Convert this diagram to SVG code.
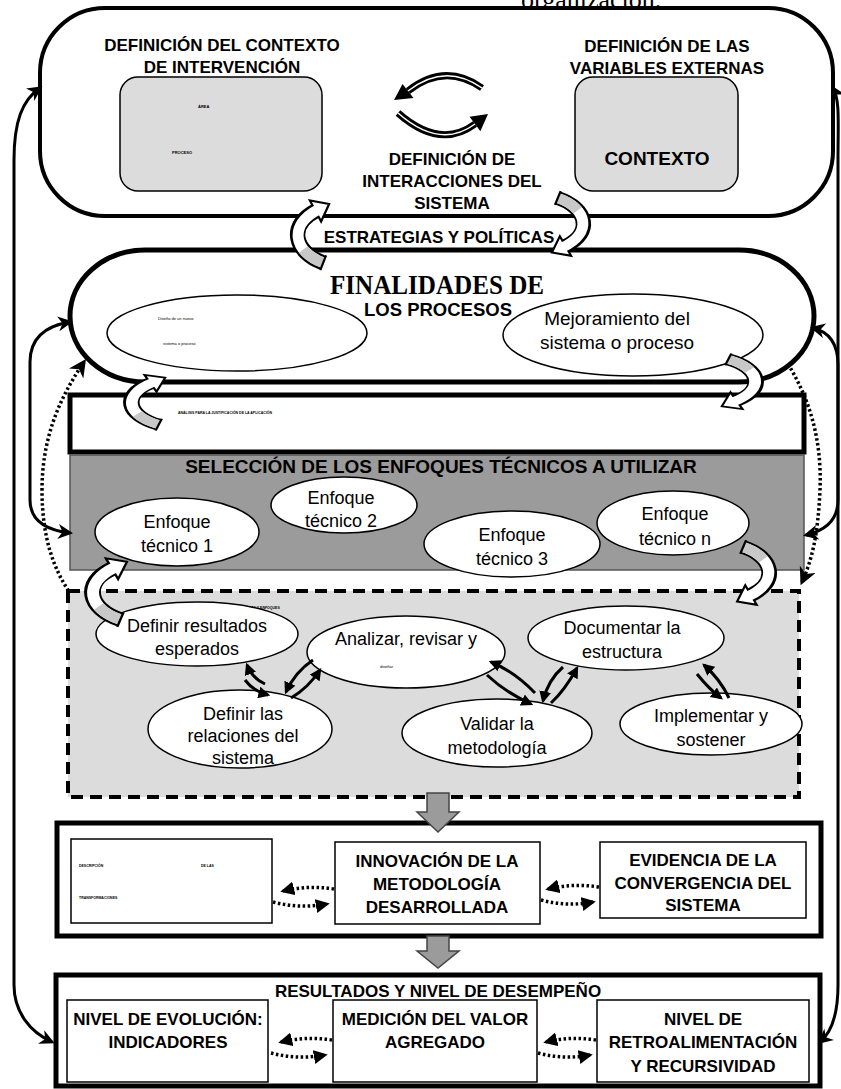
<svg xmlns="http://www.w3.org/2000/svg" xmlns:xlink="http://www.w3.org/1999/xlink" width="841" height="1089" viewBox="0 0 841 1089">
<style>
text{font-family:"Liberation Sans",Arial,sans-serif;fill:#000}
.h{font-weight:bold;font-size:17px;text-anchor:middle}
.r{font-size:18px;text-anchor:middle}
.tiny{font-size:4px;font-weight:bold}
.tn{font-size:4px}
.serif{font-family:"Liberation Serif","Times New Roman",serif}
.box{fill:#fff;stroke:#000;stroke-width:5}
.ib{fill:#fff;stroke:#000;stroke-width:1.5}
.el{fill:#fff;stroke:#000;stroke-width:1.5}
.gr{fill:#dcdcdc;stroke:#000;stroke-width:1.5}
.con{fill:none;stroke:#000;stroke-width:3}
.dot{fill:none;stroke:#000;stroke-width:3.5;stroke-dasharray:2.5 2.5}
.bd{fill:none;stroke:#000;stroke-width:3}
</style>
<defs>
<marker id="ah" viewBox="0 0 10 10" refX="8" refY="5" markerWidth="5" markerHeight="5" orient="auto-start-reverse" markerUnits="strokeWidth">
<path d="M0,0 L10,5 L0,10 L3,5 z" fill="#000"/>
</marker>
<marker id="ah2" viewBox="0 0 10 10" refX="8" refY="5" markerWidth="4" markerHeight="4" orient="auto" markerUnits="strokeWidth">
<path d="M0,0 L10,5 L0,10 z" fill="#000"/>
</marker>
<g id="curl">
<path d="M32 60 C5 50 0 25 25 12" fill="none" stroke="#000" stroke-width="14"/>
<polygon points="30.1,21.8 37.4,5.5 19.9,2.2" fill="#fff" stroke="#000" stroke-width="2" stroke-linejoin="miter"/>
<path d="M32 60 C5 50 0 25 27.7 10.6" fill="none" stroke="#fff" stroke-width="10"/>
<path d="M32 60 C23.9 57 17.8 52.65 13.9 47.7" fill="none" stroke="#c8c8c8" stroke-width="10"/>
<line x1="34.6" y1="53.2" x2="29.4" y2="66.8" stroke="#000" stroke-width="2"/>
</g>
</defs>

<rect width="841" height="1089" fill="#fff"/>

<text class="serif" x="521" y="8" font-size="26">organización.</text>

<g id="top-box">
<rect x="40" y="8" width="793" height="208" rx="65" ry="65" fill="#fff" stroke="#000" stroke-width="4"/>
<text class="h" x="222" y="51">DEFINICIÓN DEL CONTEXTO</text>
<text class="h" x="222" y="73">DE INTERVENCIÓN</text>
<text class="h" x="667" y="52">DEFINICIÓN DE LAS</text>
<text class="h" x="667" y="74">VARIABLES EXTERNAS</text>
<text class="h" x="452" y="165">DEFINICIÓN DE</text>
<text class="h" x="452" y="187">INTERACCIONES DEL</text>
<text class="h" x="452" y="209">SISTEMA</text>
</g>
<g id="contexto-intervencion">
<rect class="gr" x="120" y="77" width="202" height="114" rx="18"/>
<text class="tiny" x="198" y="108">ÁREA</text>
<text class="tiny" x="172" y="154">PROCESO</text>
</g>
<g id="contexto">
<rect class="gr" x="575" y="77" width="163" height="114" rx="18"/>
<text class="h" x="657" y="165" style="font-size:19px">CONTEXTO</text>
</g>
<g id="interacciones-arrows">
<path d="M482 88 Q445 62 408 91" fill="none" stroke="#000" stroke-width="7"/>
<path d="M482 88 Q445 62 408 91" fill="none" stroke="#fff" stroke-width="1.5"/>
<polygon points="413.5,98.1 394,100 402.5,83.9" fill="#000"/>
<path d="M398 113 Q440 150 475 124" fill="none" stroke="#000" stroke-width="7"/>
<path d="M398 113 Q440 150 475 124" fill="none" stroke="#fff" stroke-width="1.5"/>
<polygon points="480.4,131.2 488,114 469.6,116.8" fill="#000"/>
</g>

<g id="estrategias">
<text class="h" x="439" y="243">ESTRATEGIAS Y POLÍTICAS</text>
</g>

<g id="finalidades">
<rect class="box" x="70" y="250" width="744" height="132" rx="75" ry="66"/>
<text class="serif" x="437" y="294" font-size="28" font-weight="bold" text-anchor="middle" textLength="214" lengthAdjust="spacingAndGlyphs">FINALIDADES DE</text>
<text class="h" x="438" y="316" style="font-size:18.5px">LOS PROCESOS</text>
</g>
<g id="diseno">
<ellipse class="el" cx="237" cy="333" rx="130" ry="38"/>
<text class="tn" x="158" y="320">Diseño de un nuevo</text>
<text class="tn" x="163" y="345">sistema  o proceso</text>
</g>
<g id="mejoramiento">
<ellipse class="el" cx="633" cy="335" rx="130" ry="41"/>
<text class="r" x="617" y="325" style="font-size:19px">Mejoramiento del</text>
<text class="r" x="617" y="349" style="font-size:19px">sistema o proceso</text>
</g>

<g id="analisis">
<rect class="box" x="70" y="395" width="734" height="57"/>
<text class="tiny" x="178" y="414" style="font-size:3.5px">ANÁLISIS PARA LA JUSTIFICACIÓN DE LA APLICACIÓN</text>
</g>

<g id="seleccion">
<rect x="70" y="455" width="734" height="115" fill="#9b9b9b" stroke="#555" stroke-width="1.5"/>
<text class="h" x="441" y="473" style="font-size:19px">SELECCIÓN DE LOS ENFOQUES TÉCNICOS A UTILIZAR</text>
</g>
<g id="enfoque1">
<ellipse class="el" cx="177" cy="532" rx="82" ry="34"/>
<text class="r" x="177" y="528">Enfoque</text>
<text class="r" x="177" y="552">técnico 1</text>
</g>
<g id="enfoque2">
<ellipse class="el" cx="344" cy="505" rx="73" ry="28"/>
<text class="r" x="341" y="504">Enfoque</text>
<text class="r" x="341" y="527">técnico 2</text>
</g>
<g id="enfoque3">
<ellipse class="el" cx="512" cy="544" rx="88" ry="33"/>
<text class="r" x="512" y="541">Enfoque</text>
<text class="r" x="512" y="565">técnico 3</text>
</g>
<g id="enfoquen">
<ellipse class="el" cx="673" cy="523" rx="76" ry="32"/>
<text class="r" x="675" y="520">Enfoque</text>
<text class="r" x="675" y="545">técnico n</text>
</g>

<g id="herramientas">
<rect x="68" y="591" width="731" height="206" fill="#dcdcdc" stroke="#000" stroke-width="4" stroke-dasharray="12 7"/>
<text class="tiny" x="228" y="609" style="font-size:3.5px">HERRAMIENTAS Y ENFOQUES</text>
</g>
<g id="definir-resultados">
<ellipse class="el" cx="197" cy="634" rx="101" ry="32"/>
<text class="r" x="197" y="632">Definir resultados</text>
<text class="r" x="197" y="655">esperados</text>
</g>
<g id="analizar">
<ellipse class="el" cx="406" cy="652" rx="99" ry="36"/>
<text class="r" x="406" y="645">Analizar, revisar y</text>
<text class="tn" x="380" y="668">diseñar</text>
</g>
<g id="documentar">
<ellipse class="el" cx="626" cy="638" rx="98" ry="32"/>
<text class="r" x="622" y="634">Documentar la</text>
<text class="r" x="622" y="658">estructura</text>
</g>
<g id="definir-relaciones">
<ellipse class="el" cx="240" cy="729" rx="92" ry="39"/>
<text class="r" x="243" y="720">Definir las</text>
<text class="r" x="243" y="742">relaciones del</text>
<text class="r" x="243" y="764">sistema</text>
</g>
<g id="validar">
<ellipse class="el" cx="497" cy="733" rx="95" ry="34"/>
<text class="r" x="497" y="730">Validar la</text>
<text class="r" x="497" y="754">metodología</text>
</g>
<g id="implementar">
<ellipse class="el" cx="711" cy="724" rx="91" ry="31"/>
<text class="r" x="711" y="722">Implementar y</text>
<text class="r" x="711" y="746">sostener</text>
</g>

<g id="transformaciones-box">
<rect class="box" x="57" y="823" width="764" height="113"/>
</g>
<g id="descripcion">
<rect class="ib" x="71" y="839" width="201" height="84"/>
<text class="tiny" x="79" y="867" style="font-size:3.5px">DESCRIPCIÓN</text>
<text class="tiny" x="201" y="867" style="font-size:3.5px">DE LAS</text>
<text class="tiny" x="79" y="899" style="font-size:3.5px">TRANSFORMACIONES</text>
</g>
<g id="innovacion">
<rect class="ib" x="335" y="842" width="205" height="82"/>
<text class="h" x="437" y="867">INNOVACIÓN DE LA</text>
<text class="h" x="437" y="890">METODOLOGÍA</text>
<text class="h" x="437" y="913">DESARROLLADA</text>
</g>
<g id="evidencia">
<rect class="ib" x="600" y="842" width="206" height="76"/>
<text class="h" x="703" y="866">EVIDENCIA DE LA</text>
<text class="h" x="703" y="889">CONVERGENCIA DEL</text>
<text class="h" x="703" y="911">SISTEMA</text>
</g>

<g id="resultados">
<rect class="box" x="56" y="975" width="764" height="111"/>
<text class="h" x="438" y="997">RESULTADOS Y NIVEL DE DESEMPEÑO</text>
</g>
<g id="evolucion">
<rect class="ib" x="67" y="1000" width="201" height="82"/>
<text class="h" x="168" y="1025">NIVEL DE EVOLUCIÓN:</text>
<text class="h" x="168" y="1048">INDICADORES</text>
</g>
<g id="medicion">
<rect class="ib" x="333" y="1000" width="204" height="82"/>
<text class="h" x="435" y="1025">MEDICIÓN DEL VALOR</text>
<text class="h" x="435" y="1048">AGREGADO</text>
</g>
<g id="retroalimentacion">
<rect class="ib" x="597" y="1000" width="212" height="82"/>
<text class="h" x="703" y="1025">NIVEL DE</text>
<text class="h" x="703" y="1048">RETROALIMENTACIÓN</text>
<text class="h" x="703" y="1072">Y RECURSIVIDAD</text>
</g>

<g id="connectors">
<path class="con" d="M52 1042 C30 1032 14 1012 14 985 L14 160 C14 122 22 100 40 88" marker-start="url(#ah)" marker-end="url(#ah)"/>
<path class="con" d="M820 1042 C832 1032 838 1012 838 985 L838 160 C838 122 840 100 833 88" marker-start="url(#ah)" marker-end="url(#ah)"/>
<path class="con" d="M70 322 C45 326 30 338 30 362 L30 500 C30 520 45 530 70 533" marker-start="url(#ah)" marker-end="url(#ah)"/>
<path class="con" d="M813 328 C830 332 838 345 838 365 L838 500 C838 518 828 530 806 535" marker-start="url(#ah)" marker-end="url(#ah)"/>
<path class="dot" d="M84 362 C58 400 42 440 42 490 C42 540 55 570 68 590" marker-start="url(#ah)"/>
<path class="dot" d="M788 364 C810 400 822 440 820 490 C818 535 812 560 802 582" marker-end="url(#ah)"/>

<use xlink:href="#curl" transform="translate(288,198) scale(1.1,1.08)"/>
<use xlink:href="#curl" transform="translate(593,258) rotate(180) scale(1.1,1)"/>
<use xlink:href="#curl" transform="translate(121,373) scale(1.18,0.86)"/>
<use xlink:href="#curl" transform="translate(766,411) rotate(180) scale(1.18,0.86)"/>
<use xlink:href="#curl" transform="translate(82,556) scale(1.2,1.06)"/>
<use xlink:href="#curl" transform="translate(779,607) rotate(180) scale(1.12,1)"/>

<path class="bd" d="M265 684 Q252 678 247 665" marker-end="url(#ah2)"/>
<path class="bd" d="M245 680 Q253 691 268 695" marker-end="url(#ah2)"/>
<path class="bd" d="M313 660 Q295 672 286 692" marker-end="url(#ah2)"/>
<path class="bd" d="M291 698 Q308 688 320 670" marker-end="url(#ah2)"/>
<path class="bd" d="M535 693 Q515 672 491 662" marker-end="url(#ah2)"/>
<path class="bd" d="M487 675 Q505 692 531 704" marker-end="url(#ah2)"/>
<path class="bd" d="M563 667 Q548 680 543 701" marker-end="url(#ah2)"/>
<path class="bd" d="M551 703 Q565 690 577 668" marker-end="url(#ah2)"/>
<path class="bd" d="M729 698 Q720 679 704 665" marker-end="url(#ah2)"/>
<path class="bd" d="M697 674 Q709 689 721 698" marker-end="url(#ah2)"/>

<path class="dot" d="M334 889 Q308 885 283 891" marker-end="url(#ah2)"/>
<path class="dot" d="M273 902 Q300 909 327 904" marker-end="url(#ah2)"/>
<path class="dot" d="M599 887 Q572 883 548 889" marker-end="url(#ah2)"/>
<path class="dot" d="M541 900 Q567 907 593 902" marker-end="url(#ah2)"/>
<path class="dot" d="M332 1040 Q306 1036 281 1042" marker-end="url(#ah2)"/>
<path class="dot" d="M271 1053 Q298 1060 325 1055" marker-end="url(#ah2)"/>
<path class="dot" d="M596 1040 Q570 1036 546 1042" marker-end="url(#ah2)"/>
<path class="dot" d="M538 1053 Q564 1060 590 1055" marker-end="url(#ah2)"/>

<polygon points="427,793 449,793 449,812 459,812 438,832 417,812 427,812" fill="#9b9b9b" stroke="#444" stroke-width="1.5"/>
<polygon points="427,936 449,936 449,951 459,951 438,968 417,951 427,951" fill="#9b9b9b" stroke="#444" stroke-width="1.5"/>
</g>
</svg>
